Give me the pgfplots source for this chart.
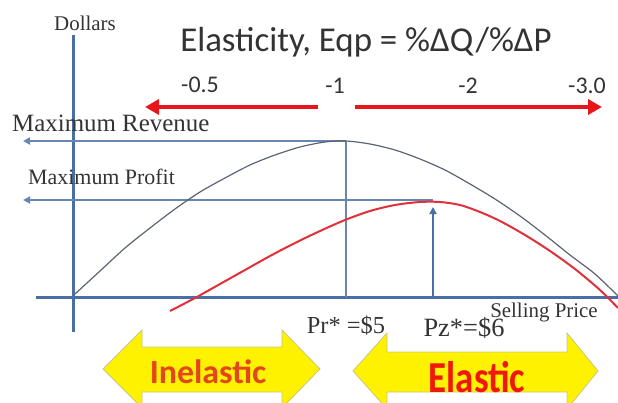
\documentclass[border=0pt]{standalone}
\usepackage{pgfplots}
\pgfplotsset{compat=1.18}
\usepackage{fontspec}
\setmainfont{Liberation Serif}
\newfontfamily\calfont{Carlito}
\usetikzlibrary{arrows.meta}
\definecolor{axblue}{HTML}{4A6FA5}
\definecolor{lnblue}{HTML}{6687B5}
\definecolor{revgray}{HTML}{5C6373}
\definecolor{profred}{HTML}{E0303A}
\definecolor{arrred}{HTML}{E8161A}
\definecolor{txtgray}{HTML}{333333}
\definecolor{inelcol}{HTML}{E4461C}
\definecolor{elcol}{HTML}{F0180C}
\begin{document}
\begin{tikzpicture}
\begin{axis}[hide axis, scale only axis, width=618bp, height=403bp,
  xmin=0, xmax=618, ymin=0, ymax=403, y dir=reverse]
% yellow double arrows
\addplot[fill=yellow, draw=yellow!60!black!60, line width=0.8bp] coordinates {
 (103,369) (142,330) (142,347) (282,347) (282,330) (320,369) (282,408) (282,392) (142,392) (142,408)} -- cycle;
\addplot[fill=yellow, draw=yellow!60!black!60, line width=0.8bp] coordinates {
 (353,371) (387,333) (387,352) (567,352) (567,333) (598,371) (567,409) (567,392) (387,392) (387,409)} -- cycle;
% axes
\addplot[axblue, line width=3bp] coordinates {(73,35) (73,332)};
\addplot[axblue, line width=3bp] coordinates {(36,297) (618,297)};
% max revenue / profit arrows
\addplot[lnblue, line width=2bp, -{Triangle[length=7bp,width=7bp]}] coordinates {(346,141) (23,141)};
\addplot[lnblue, line width=2bp, -{Triangle[length=7bp,width=7bp]}] coordinates {(433,200) (23,200)};
\addplot[lnblue!80!gray, line width=1.5bp] coordinates {(346,141) (346,297)};
\addplot[axblue, line width=2bp, -{Triangle[length=7bp,width=7bp]}] coordinates {(433,297) (433,207)};
% revenue curve
\addplot[revgray, line width=1.2bp, smooth] coordinates {
 (75,294) (100,271) (125,248) (150,228) (175,209) (200,192) (225,178) (250,165) (275,155)
 (300,147) (325,142) (346,141) (370,144) (395,150) (420,159) (445,170) (470,184) (495,199)
 (520,216) (545,235) (570,255) (595,274) (618,296)};
% profit curve
\addplot[profred, line width=2bp, smooth] coordinates {
 (170,311) (195,298) (220,284) (245,270) (270,256) (295,243) (320,231) (345,220) (370,211)
 (395,205) (420,202) (440,202) (460,205) (480,212) (500,221) (525,235) (550,251) (575,269)
 (600,290) (618,308)};
% red elasticity arrows
\addplot[arrred, line width=4.5bp, -{Triangle[length=14bp,width=15bp]}] coordinates {(318,107) (145,107)};
\addplot[arrred, line width=4.5bp, -{Triangle[length=14bp,width=15bp]}] coordinates {(355,107) (602,107)};
% texts
\node[txtgray, font=\calfont\fontsize{35}{38}\selectfont] at (axis cs:366,42) {Elasticity, Eqp = \%ΔQ/\%ΔP};
\node[txtgray, font=\calfont\fontsize{24}{26}\selectfont] at (axis cs:200,85) {-0.5};
\node[txtgray, font=\calfont\fontsize{24}{26}\selectfont] at (axis cs:335,86) {-1};
\node[txtgray, font=\calfont\fontsize{24}{26}\selectfont] at (axis cs:468,86) {-2};
\node[txtgray, font=\calfont\fontsize{24}{26}\selectfont] at (axis cs:587,86) {-3.0};
\node[txtgray, font=\fontsize{21}{23}\selectfont] at (axis cs:85,23) {Dollars};
\node[txtgray, font=\fontsize{25}{27}\selectfont, anchor=west, inner sep=0pt] at (axis cs:12,123) {Maximum Revenue};
\node[txtgray, font=\fontsize{22}{24}\selectfont, anchor=west, inner sep=0pt] at (axis cs:28,177) {Maximum Profit};
\node[txtgray, font=\fontsize{21}{23}\selectfont] at (axis cs:544,312) {Selling Price};
\node[txtgray, font=\fontsize{24.5}{26}\selectfont] at (axis cs:346,326) {Pr* =\$5};
\node[txtgray, font=\fontsize{26.5}{28}\selectfont] at (axis cs:464,328) {Pz*=\$6};
\node[inelcol, font=\calfont\bfseries\fontsize{34}{36}\selectfont] at (axis cs:208,372) {Inelastic};
\node[elcol, font=\calfont\bfseries\fontsize{37}{39}\selectfont, yscale=1.2] at (axis cs:477,377) {Elastic};
\end{axis}
\pgfresetboundingbox
\path (current axis.south west) rectangle (current axis.north east);
\end{tikzpicture}
\end{document}
